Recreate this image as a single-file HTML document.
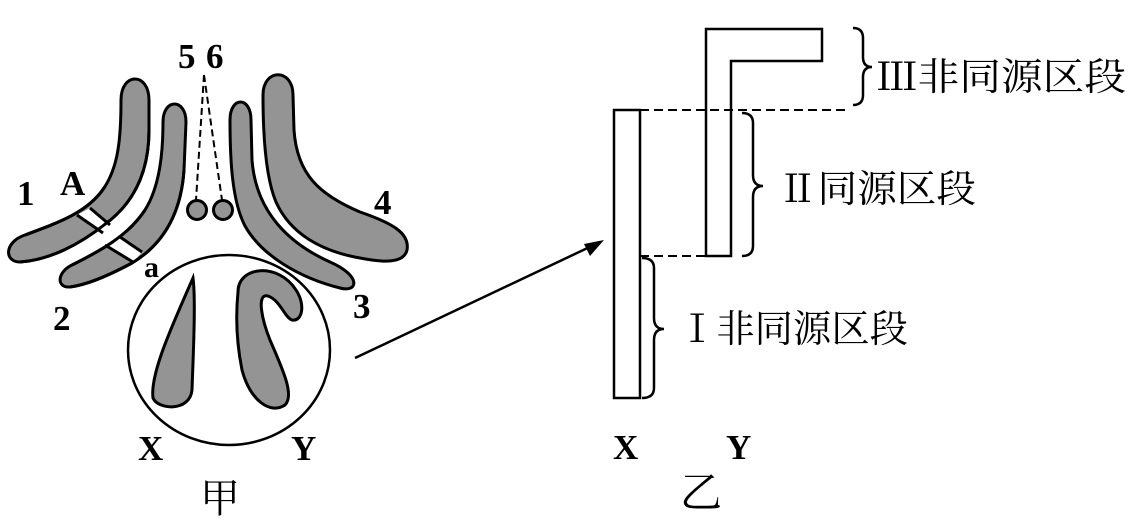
<!DOCTYPE html>
<html><head><meta charset="utf-8"><style>
html,body{margin:0;padding:0;background:#fff;}
svg{display:block;}
text{font-family:"Liberation Serif","Noto Serif CJK SC",serif;fill:#000;}
</style></head><body>
<svg width="1141" height="527" viewBox="0 0 1141 527" xmlns="http://www.w3.org/2000/svg">
<g fill="#949494" stroke="#000" stroke-width="3">
<path d="M121,100 C121,72 149,72 149,100 L149,130 C149,175 132,205 104,225 C80,244 50,260 20,262 C4,262 4,242 25,235 C60,222 88,212 104,188 C118,167 121,140 121,100 Z"/>
<path d="M163,122 C163,98 186,98 186,122 L184,170 C181,215 162,245 132,263 C106,277 86,285 70,287 C56,288 57,272 72,265 C100,251 128,236 145,210 C160,186 163,152 163,122 Z"/>
<path d="M230,120 C230,96 251,96 251,120 L252,160 C256,213 290,244 330,262 C362,276 358,293 340,288 C300,278 262,256 245,226 C232,201 230,160 230,120 Z"/>
<path d="M263,95 C263,68 293,68 293,95 L294,130 C297,175 320,195 360,212 C392,223 410,233 407,250 C404,263 385,263 360,258 C320,251 290,233 276,202 C265,176 263,130 263,95 Z"/>
</g>
<g fill="#fff" stroke="#000" stroke-width="3">
<polygon points="77,215 90,208 110,225 103,233" stroke="none"/>
<line x1="77" y1="215" x2="103" y2="233"/><line x1="90" y1="208" x2="110" y2="225"/>
<polygon points="105,245 120,237 142,252 133,262" stroke="none"/>
<line x1="105" y1="245" x2="133" y2="262"/><line x1="120" y1="237" x2="142" y2="252"/>
</g>
<g fill="none" stroke="#000" stroke-width="3">
<path d="M149,130 C149,175 132,205 104,225 C80,244 50,260 20,262"/>
<path d="M25,235 C60,222 88,212 104,188"/>
<path d="M184,170 C181,215 162,245 132,263 C106,277 86,285 70,287"/>
<path d="M72,265 C100,251 128,236 145,210"/>
</g>
<ellipse cx="229" cy="350" rx="101" ry="95" fill="none" stroke="#000" stroke-width="2.5"/>
<g fill="#949494" stroke="#000" stroke-width="3">
<path d="M193,278 C196,300 193,360 192,390 C190,412 158,410 153,398 C150,375 170,330 193,278 Z"/>
<path d="M238,292 C238,266 278,262 296,290 C306,305 302,322 292,320 C285,318 280,300 268,296 C256,293 262,320 270,340 C282,368 295,395 285,405 C270,415 250,400 242,370 C236,340 236,312 238,292 Z"/>
<circle cx="197" cy="210" r="9.5"/><circle cx="223" cy="210" r="9.5"/>
</g>
<g stroke="#000" stroke-width="2" stroke-dasharray="7,4" fill="none">
<line x1="204" y1="75" x2="196" y2="200"/><line x1="204" y1="75" x2="222" y2="200"/>
</g>
<line x1="355" y1="358" x2="596" y2="244" stroke="#000" stroke-width="2.5"/>
<polygon points="604,240 584,244 590,256" fill="#000"/>
<g font-size="35" font-weight="bold">
<text x="178" y="68">5</text><text x="206" y="68">6</text>
<text x="17" y="205">1</text>
<text x="60" y="195">A</text>
<text x="374" y="214">4</text>
<text x="53" y="330">2</text>
<text x="144" y="277" font-size="30">a</text>
<text x="353" y="318">3</text>
<text x="138" y="460">X</text>
<text x="291" y="460">Y</text>
<text x="613" y="459">X</text>
<text x="726" y="459">Y</text>
</g>
<text x="200" y="512" font-size="40" font-family="Noto Serif CJK SC,serif">甲</text>
<text x="680" y="507" font-size="42" font-family="Noto Serif CJK SC,serif">乙</text>
<g fill="none" stroke="#000" stroke-width="2.5">
<rect x="614" y="110" width="26" height="288"/>
<path d="M706,256 L706,29 L822,29 L822,61 L731,61 L731,256 Z"/>
</g>
<g stroke="#000" stroke-width="2" stroke-dasharray="9,5">
<line x1="640" y1="110" x2="850" y2="110"/>
<line x1="640" y1="256" x2="706" y2="256"/>
</g>
<g fill="none" stroke="#000" stroke-width="2.5">
<path d="M853,28 Q863,28 863,38 L863,57 Q863,67 872,67 Q863,67 863,77 L863,95 Q863,105 853,105"/>
<path d="M742,113 Q753,113 753,123 L753,175 Q753,186 763,186 Q753,186 753,197 L753,246 Q753,256 742,256"/>
<path d="M642,258 Q654,258 654,268 L654,318 Q654,329 664,329 Q654,329 654,340 L654,388 Q654,398 642,398"/>
</g>
<g font-size="38" font-family="Noto Serif CJK SC,serif">
<text x="876" y="90" textLength="250" lengthAdjust="spacingAndGlyphs">Ⅲ非同源区段</text>
<text x="778" y="202" textLength="198" lengthAdjust="spacingAndGlyphs">Ⅱ同源区段</text>
<text x="678" y="342" textLength="230" lengthAdjust="spacingAndGlyphs">Ⅰ非同源区段</text>
</g>
</svg>
</body></html>
